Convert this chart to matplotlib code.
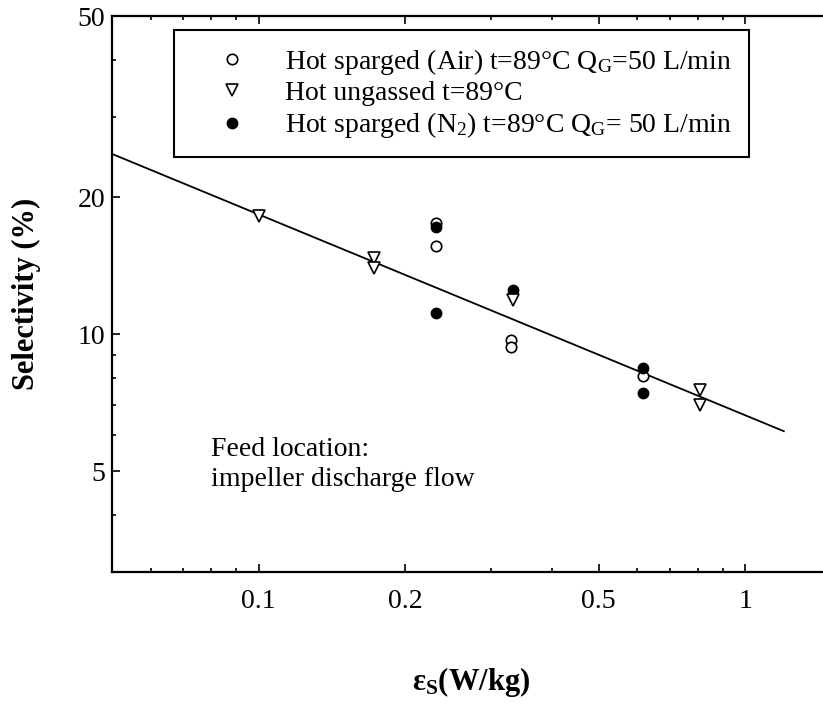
import numpy as np
import matplotlib
matplotlib.use("Agg")
import matplotlib.pyplot as plt
from matplotlib.ticker import FixedLocator, NullFormatter

plt.rcParams['font.family'] = ['Liberation Serif', 'DejaVu Serif']
plt.rcParams['mathtext.fontset'] = 'custom'
plt.rcParams['mathtext.rm'] = 'Liberation Serif'
plt.rcParams['mathtext.it'] = 'Liberation Serif:italic'
plt.rcParams['mathtext.bf'] = 'Liberation Serif:bold'

# data
air_x = [0.232, 0.232, 0.33, 0.33, 0.616]
air_y = [17.5, 15.6, 9.68, 9.39, 8.09]

ungassed_x = [0.1, 0.173, 0.173, 0.333, 0.806, 0.806]
ungassed_y = [18.2, 14.7, 14.0, 11.9, 7.54, 6.98]

n2_x = [0.232, 0.232, 0.333, 0.616, 0.616]
n2_y = [17.2, 11.1, 12.5, 8.41, 7.43]

# power law fit line  y = a * x^b
fit_a = 6.63
fit_b = -0.4415
fit_x = np.array([0.05, 1.2])

x_major = [0.1, 0.2, 0.5, 1]
x_labels = ['0.1', '0.2', '0.5', '1']
x_minor = [0.06, 0.07, 0.08, 0.09, 0.3, 0.4, 0.6, 0.7, 0.8, 0.9]
y_major = [5, 10, 20, 50]
y_labels = ['5', '10', '20', '50']
y_minor = [4, 6, 7, 8, 9, 30, 40]

fig = plt.figure(figsize=(8.23, 7.04), dpi=100)
ax = fig.add_axes([112/823, 132/704, 719/823, 556/704])
ax.set_xscale('log')
ax.set_yscale('log')
ax.set_xlim(0.05, 1.5)
ax.set_ylim(3, 50)

ax.plot(fit_x, fit_a*fit_x**fit_b, color='black', lw=1.3, zorder=2)

ax.plot(air_x, air_y, 'o', ms=7.5, mfc='white', mec='black', mew=1.2, ls='none',
        zorder=3, label=r'Hot sparged (Air) t=89°C Q$_\mathrm{G}$=50 L/min')
ax.plot(ungassed_x, ungassed_y, 'v', ms=9, mfc='white', mec='black', mew=1.2, ls='none',
        zorder=5, label='Hot ungassed t=89°C')
ax.plot(n2_x, n2_y, 'o', ms=7.5, mfc='black', mec='black', ls='none',
        zorder=4, label=r'Hot sparged (N$_2$) t=89°C Q$_\mathrm{G}$= 50 L/min')

ax.xaxis.set_major_locator(FixedLocator(x_major))
ax.set_xticklabels(x_labels)
ax.xaxis.set_minor_locator(FixedLocator(x_minor))
ax.xaxis.set_minor_formatter(NullFormatter())
ax.yaxis.set_major_locator(FixedLocator(y_major))
ax.set_yticklabels(y_labels)
ax.yaxis.set_minor_locator(FixedLocator(y_minor))
ax.yaxis.set_minor_formatter(NullFormatter())

ax.tick_params(which='both', direction='in', top=True, right=False, labelsize=20, width=1.2)
ax.tick_params(which='major', length=6)
ax.tick_params(axis='x', which='major', pad=12)
ax.tick_params(axis='y', which='major', pad=5)
ax.tick_params(which='minor', length=3)
for s in ['left', 'bottom', 'top']:
    ax.spines[s].set_linewidth(1.6)
ax.spines['right'].set_visible(False)

ax.set_ylabel('Selectivity (%)', fontsize=22, fontweight='bold', labelpad=26)
ax.set_xlabel(r'ε$_\mathbf{S}$(W/kg)', fontsize=22, fontweight='bold', labelpad=37)

ax.text(0.08, 5.95, 'Feed location:\nimpeller discharge flow', fontsize=20,
        va='top', ha='left', linespacing=1.3)

leg = ax.legend(loc='upper left', bbox_to_anchor=(0.0858, 0.975), borderaxespad=0,
                fontsize=20, numpoints=1, handlelength=3.0, handletextpad=0.4,
                borderpad=0.6, labelspacing=0.15, fancybox=False, framealpha=1)
leg.get_frame().set_edgecolor('black')
leg.get_frame().set_linewidth(1.5)

fig.savefig('out.png', dpi=100)
